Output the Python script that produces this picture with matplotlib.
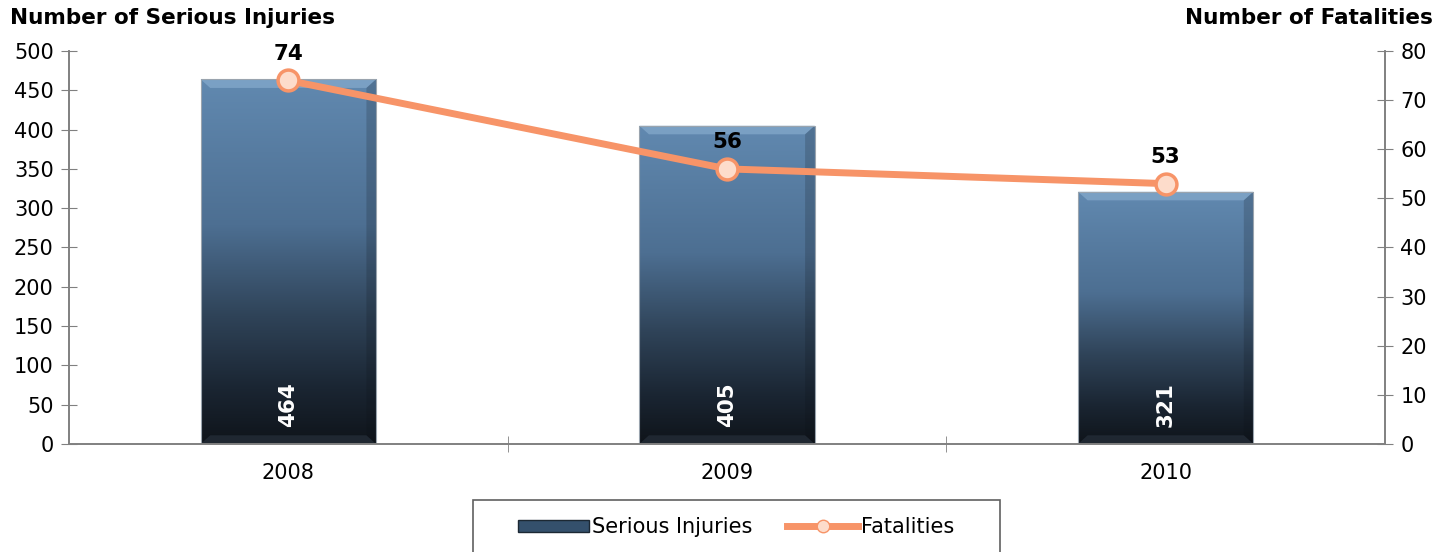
import numpy as np
from matplotlib import pyplot as plt
from matplotlib.colors import LinearSegmentedColormap
from matplotlib.patches import Polygon, Patch, Rectangle
from matplotlib.lines import Line2D


years = ["2008", "2009", "2010"]
injuries = [464, 405, 321]      # Кількість серйозних травм
fatalities = [74, 56, 53]       # Кількість загиблих

BAR_W = 0.40
LINE_C = "#f79468"
GRID_C = "#808080"

plt.rcParams["font.family"] = ["DejaVu Sans"]

fig = plt.figure(figsize=(14.52, 5.52), dpi=100)
ax = fig.add_axes([0.0475, 0.1957, 0.9064, 0.7119])
ax2 = ax.twinx()

x = np.arange(len(years))
ax.set_xlim(-0.5, 2.5)
ax.set_ylim(0, 500)
ax2.set_ylim(0, 80)

# Градієнт для стовпців
cmap = LinearSegmentedColormap.from_list(
    "bar", [(0.0, "#0f141a"), (0.15, "#1a2532"), (0.35, "#2f4358"),
            (0.6, "#4d6f92"), (1.0, "#6189b0")])
grad = np.linspace(0, 1, 256).reshape(-1, 1)

bars = ax.bar(x, injuries, BAR_W, color="none", edgecolor="#9aa4ae", lw=0.8, zorder=2)
for xi, v, b in zip(x, injuries, bars):
    im = ax.imshow(grad, cmap=cmap, aspect="auto", origin="lower",
                   extent=(xi - BAR_W / 2, xi + BAR_W / 2, 0, v), zorder=1)
    im.set_clip_path(b)
    # Фаска зверху та знизу
    dx, dy = 0.022, 11
    top = Polygon([(xi - BAR_W / 2, v), (xi + BAR_W / 2, v),
                   (xi + BAR_W / 2 - dx, v - dy), (xi - BAR_W / 2 + dx, v - dy)],
                  closed=True, fc="#86abcd", ec="none", alpha=0.7, zorder=1.5)
    ax.add_patch(top)
    right = Polygon([(xi + BAR_W / 2, v), (xi + BAR_W / 2, 0),
                     (xi + BAR_W / 2 - dx, dy), (xi + BAR_W / 2 - dx, v - dy)],
                    closed=True, fc="#0b0f14", ec="none", alpha=0.18, zorder=1.5)
    ax.add_patch(right)
    bot = Polygon([(xi - BAR_W / 2, 0), (xi + BAR_W / 2, 0),
                   (xi + BAR_W / 2 - dx, dy), (xi - BAR_W / 2 + dx, dy)],
                  closed=True, fc="#2a3440", ec="none", alpha=0.6, zorder=1.5)
    ax.add_patch(bot)
    ax.text(xi, 50, str(v), rotation=90, ha="center", va="center",
            color="white", fontsize=15.5, fontweight="bold", zorder=3)

ax2.plot(x, fatalities, "-o", color=LINE_C, lw=5, ms=15,
         mfc="#fddccb", mec=LINE_C, mew=2.5, zorder=4)
for xi, v in zip(x, fatalities):
    ax2.annotate(str(v), (xi, v), xytext=(0, 12), textcoords="offset points",
                 ha="center", va="bottom", fontsize=15.5, fontweight="bold")

ax.set_zorder(ax2.get_zorder() - 1)
ax.patch.set_visible(True)
ax2.patch.set_visible(False)

ax.set_yticks(np.arange(0, 501, 50))
ax2.set_yticks(np.arange(0, 81, 10))
ax.set_xticks(x)
ax.set_xticklabels(years)
ax.set_xticks([0.5, 1.5], minor=True)
ax.tick_params(axis="x", which="major", length=0, labelsize=15, pad=14)
ax.tick_params(axis="x", which="minor", direction="inout", length=12, color=GRID_C)
ax.tick_params(axis="y", direction="inout", length=12, color=GRID_C, labelsize=15, pad=5)
ax2.tick_params(axis="y", direction="inout", length=12, color=GRID_C, labelsize=15, pad=5)

for a in (ax, ax2):
    a.spines["top"].set_visible(False)
    for s in ("left", "right", "bottom"):
        a.spines[s].set_color(GRID_C)
        a.spines[s].set_linewidth(1.2)

fig.text(0.007, 0.968, "Number of Serious Injuries", fontsize=15.5,
         fontweight="bold", ha="left", va="center")
fig.text(0.987, 0.968, "Number of Fatalities", fontsize=15.5,
         fontweight="bold", ha="right", va="center")

# Легенда з окремою рамкою (рамка обрізана знизу)
handles = [
    Patch(fc="#34506c", ec="#1c2833", label="Serious Injuries"),
    Line2D([], [], color=LINE_C, lw=5, marker="o", ms=9,
           mfc="#fddccb", mec=LINE_C, label="Fatalities"),
]
fig.legend(handles=handles, loc="center", ncol=2,
           bbox_to_anchor=(0.507, 0.045), fontsize=15, frameon=False,
           handlelength=3.4, handleheight=0.55, handletextpad=0.15,
           columnspacing=1.7, borderpad=0, borderaxespad=0)
fig.patches.append(Rectangle((0.3257, -0.05), 0.363, 0.1442, transform=fig.transFigure,
                             fill=False, ec="#606060", lw=1.2))

fig.savefig("out.png", dpi=100)
